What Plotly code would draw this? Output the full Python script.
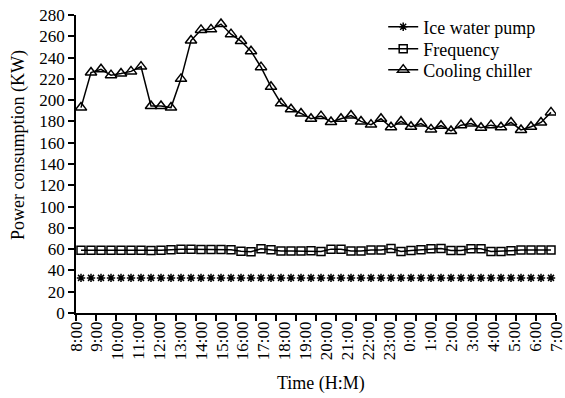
import plotly.graph_objects as go

# --- data (48 half-hour samples, 8:00 -> 7:30) ---
sample_index = list(range(48))
hour_labels = ["8:00", "9:00", "10:00", "11:00", "12:00", "13:00", "14:00", "15:00",
               "16:00", "17:00", "18:00", "19:00", "20:00", "21:00", "22:00", "23:00",
               "0:00", "1:00", "2:00", "3:00", "4:00", "5:00", "6:00", "7:00"]

ice_water_pump = [33, 33, 33, 33, 33, 33, 33, 33, 33, 33, 33, 33, 33, 33, 33, 33,
                  33, 33, 33, 33, 33, 33, 33, 33, 33, 33, 33, 33, 33, 33, 33, 33,
                  33, 33, 33, 33, 33, 33, 33, 33, 33, 33, 33, 33, 33, 33, 33, 33]

frequency = [59, 59, 59, 59, 59, 59, 59, 58.7, 59, 59.5, 60, 59.8, 59.7, 59.7, 59.7, 59.5,
             58, 57.5, 60.3, 59.5, 58.3, 58.3, 58.3, 58.5, 57.8, 60, 60, 58.2, 58.2, 59.1, 59.1, 60.6,
             57.8, 58.8, 59.5, 60.3, 60.6, 58.8, 58.8, 60.3, 60.3, 57.8, 57.8, 58.5, 59.1, 59.1, 59.1, 59.1]

cooling_chiller = [193, 226, 229, 223.5, 225, 227, 231.5, 194.5, 194.5, 193, 220, 256, 266, 266.5, 271.5, 262,
                   255.5, 246, 231, 212.5, 197, 191.5, 187.5, 182.5, 185, 179.5, 182.5, 185.5, 180, 177, 182.5, 174.5,
                   180, 175, 178, 172.5, 176, 171, 176.5, 178, 174, 176.5, 174.5, 179, 172, 175, 179, 188.5]

FONT = "Liberation Serif, Times New Roman, serif"
n = len(sample_index)
x_lo, x_hi = -0.5, n - 0.5
span = x_hi - x_lo
label_pos = [round(x_lo + k * span / (len(hour_labels) - 1), 6) for k in range(len(hour_labels))]
label_pos[-1] = x_hi - 1e-6
label_pos[0] = x_lo + 1e-6
tick_pos = [x_lo + 2 * k for k in range(n // 2 + 1)]

fig = go.Figure()

marker_line = dict(color="black", width=1.5)

# Ice water pump: markers only in plot, line+marker in legend
fig.add_trace(go.Scatter(
    x=sample_index, y=ice_water_pump, mode="markers", showlegend=False,
    marker=dict(symbol="asterisk-open", size=7, color="black", line=marker_line),
))
fig.add_trace(go.Scatter(
    x=[None], y=[None], mode="lines+markers", name="Ice water pump", legend="legend",
    line=dict(color="black", width=1.5),
    marker=dict(symbol="asterisk-open", size=7, color="black", line=marker_line),
))
fig.add_trace(go.Scatter(
    x=sample_index, y=frequency, mode="lines+markers", name="Frequency", legend="legend2",
    line=dict(color="black", width=1.5),
    marker=dict(symbol="square-open", size=8, color="black", line=marker_line),
))
fig.add_trace(go.Scatter(
    x=sample_index, y=cooling_chiller, mode="lines+markers", name="Cooling chiller", legend="legend3",
    line=dict(color="black", width=1.5),
    marker=dict(symbol="triangle-up-open", size=10, color="black", line=marker_line),
))

top_px, bot_px = 15, 313.3


def leg(yc):
    return dict(x=0.64, xanchor="left", y=(bot_px - yc) / (bot_px - top_px), yanchor="middle",
                bgcolor="rgba(0,0,0,0)", font=dict(family=FONT, size=18), itemwidth=30)


fig.update_layout(
    width=565, height=398,
    margin=dict(l=76, r=9, t=15, b=85, autoexpand=False),
    paper_bgcolor="white", plot_bgcolor="white",
    font=dict(family=FONT, size=17, color="black"),
    showlegend=True,
    legend=leg(27), legend2=leg(49), legend3=leg(70),
    xaxis=dict(
        range=[x_lo, x_hi], showgrid=False, zeroline=False, automargin=False,
        showline=True, linecolor="black", linewidth=1.5,
        tickmode="array", tickvals=label_pos, ticktext=hour_labels,
        ticks="", tickangle=-90, tickfont=dict(family=FONT, size=17),
        ticklabeloverflow="allow",
        minor=dict(tickmode="array", tickvals=tick_pos, ticks="outside",
                   ticklen=6, tickwidth=1.5, tickcolor="black", showgrid=False),
    ),
    yaxis=dict(
        range=[0, 280], dtick=20, tick0=0, showgrid=False, zeroline=False, automargin=False,
        showline=True, linecolor="black", linewidth=1.5,
        ticks="outside", ticklen=6, tickwidth=1.5, tickcolor="black",
        tickfont=dict(family=FONT, size=17),
    ),
    annotations=[
        dict(text="Power consumption (KW)", xref="paper", yref="paper",
             x=-0.12, y=0.565, xanchor="center", yanchor="middle",
             textangle=-90, showarrow=False, font=dict(family=FONT, size=18)),
        dict(text="Time (H:M)", xref="paper", yref="paper",
             x=0.51, y=-0.235, xanchor="center", yanchor="middle",
             showarrow=False, font=dict(family=FONT, size=18)),
    ],
)

fig.write_html("out.html")
